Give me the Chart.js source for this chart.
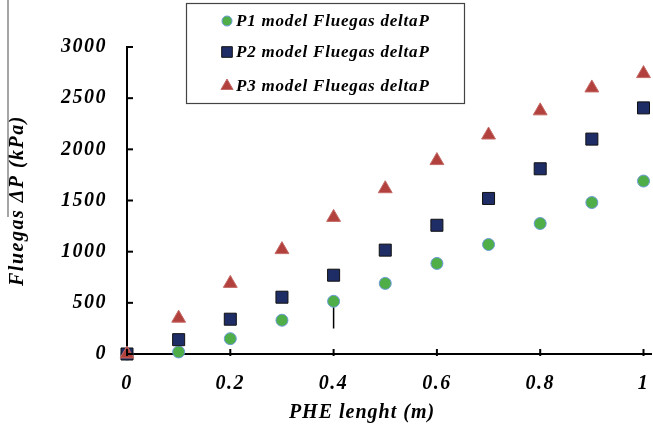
<!DOCTYPE html>
<html>
<head>
<meta charset="utf-8">
<script src="https://cdn.jsdelivr.net/npm/chart.js@4.4.1/dist/chart.umd.min.js"></script>
<style>
  html, body { margin: 0; padding: 0; background: #fff; }
  #wrap { width: 653px; height: 432px; }
</style>
</head>
<body>
<div id="wrap"><canvas id="myChart" width="653" height="432"></canvas></div>
<script>
// PHE length (m)
var lengths = [0, 0.1, 0.2, 0.3, 0.4, 0.5, 0.6, 0.7, 0.8, 0.9, 1.0];
// flue gas pressure drop (kPa)
var p1 = [0, 20, 150, 330, 515, 690, 885, 1070, 1275, 1480, 1690];
var p2 = [0, 140, 340, 555, 770, 1015, 1258, 1520, 1810, 2100, 2405];
var p3 = [0, 350, 690, 1020, 1335, 1615, 1890, 2140, 2376, 2600, 2740];
// the stray vertical bar under the 0.4 point
var barX = [0.4, 0.4];
var barY = [515, 250];

var seriesNames = ["P1 model Fluegas deltaP", "P2 model Fluegas deltaP", "P3 model Fluegas deltaP"];
var xTitle = 'PHE lenght (m)';
var yTitle = 'Fluegas \u0394P (kPa)';
var xTicks = [0, 0.2, 0.4, 0.6, 0.8, 1];
var yTicks = [0, 500, 1000, 1500, 2000, 2500, 3000];

var serif = "'Liberation Serif', 'Times New Roman', serif";

function pts(xs, ys) {
  var out = [];
  for (var i = 0; i < xs.length; i++) out.push({x: xs[i], y: ys[i]});
  return out;
}

var spacing = {
  id: 'spacing',
  beforeUpdate: function(chart) { chart.ctx.letterSpacing = '1.5px'; },
  beforeDraw: function(chart) { chart.ctx.letterSpacing = '1.5px'; }
};

var extras = {
  id: 'extras',
  afterDatasetsDraw: function(chart) {
    var ctx = chart.ctx;
    var xs = chart.scales.x, ys = chart.scales.y;
    ctx.save();
    ctx.strokeStyle = '#000';
    ctx.lineWidth = 2;
    // inward tick marks
    yTicks.forEach(function(v) {
      var py = ys.getPixelForValue(v);
      ctx.beginPath(); ctx.moveTo(xs.left, py); ctx.lineTo(xs.left + 6, py); ctx.stroke();
    });
    xTicks.forEach(function(v) {
      var px = xs.getPixelForValue(v);
      ctx.beginPath(); ctx.moveTo(px, ys.bottom + 2); ctx.lineTo(px, ys.bottom - 5); ctx.stroke();
    });
    // x axis line runs a bit past 1
    ctx.beginPath(); ctx.moveTo(xs.right, ys.bottom); ctx.lineTo(652, ys.bottom); ctx.stroke();
    // grey line at left edge
    ctx.strokeStyle = '#888';
    ctx.lineWidth = 1.5;
    ctx.beginPath(); ctx.moveTo(8, 0); ctx.lineTo(8, 217); ctx.stroke();

    // x axis title, sits left of the axis centre in the original
    ctx.fillStyle = '#000';
    ctx.font = "italic bold 20px " + serif;
    ctx.letterSpacing = '1px';
    ctx.textAlign = 'center';
    ctx.textBaseline = 'middle';
    ctx.fillText(xTitle, 362, 413);

    // legend box
    ctx.fillStyle = '#fff';
    ctx.fillRect(186, 3, 278, 100);
    ctx.strokeStyle = '#444';
    ctx.lineWidth = 1.2;
    ctx.strokeRect(186.5, 3.5, 278, 100);
    var rows = [21, 52, 86];
    ctx.font = "italic bold 17px " + serif;
    ctx.letterSpacing = '0.8px';
    ctx.textAlign = 'left';
    ctx.textBaseline = 'middle';
    for (var i = 0; i < 3; i++) {
      var ds = chart.data.datasets[i];
      ctx.fillStyle = ds.backgroundColor;
      ctx.strokeStyle = ds.borderColor;
      ctx.lineWidth = ds.borderWidth;
      Chart.helpers.drawPoint(ctx, {
        pointStyle: ds.pointStyle, radius: ds.pointRadius - 1, rotation: 0,
        borderWidth: ds.borderWidth
      }, 227, rows[i]);
      ctx.fillStyle = '#000';
      ctx.fillText(seriesNames[i], 236, rows[i] + 1);
    }
    ctx.restore();
  }
};

var ctx = document.getElementById('myChart').getContext('2d');
var chart = new Chart(ctx, {
  type: 'scatter',
  data: {
    datasets: [{
      label: seriesNames[0],
      data: pts(lengths, p1),
      pointStyle: 'circle',
      pointRadius: 6,
      backgroundColor: '#4fae48',
      borderColor: '#6b9bd8',
      borderWidth: 1,
      order: 3
    }, {
      label: seriesNames[1],
      data: pts(lengths, p2),
      pointStyle: 'rect',
      pointRadius: 8.5,
      backgroundColor: '#1f2d66',
      borderColor: '#111',
      borderWidth: 1,
      order: 2
    }, {
      label: seriesNames[2],
      data: pts(lengths, p3),
      pointStyle: 'triangle',
      pointRadius: 8,
      backgroundColor: '#b2403d',
      borderColor: '#c46a66',
      borderWidth: 1,
      order: 1
    }, {
      label: 'bar',
      data: pts(barX, barY),
      showLine: true,
      pointRadius: 0,
      borderColor: '#000',
      borderWidth: 1.5,
      order: 4
    }]
  },
  options: {
    responsive: false,
    animation: false,
    clip: false,
    layout: { padding: { top: 47, right: 6, left: 0, bottom: 0 } },
    plugins: {
      legend: { display: false },
      tooltip: { enabled: false }
    },
    scales: {
      x: {
        type: 'linear',
        min: 0, max: 1,
        afterBuildTicks: function(s) { s.ticks = xTicks.map(function(v) { return {value: v}; }); },
        afterFit: function(s) { s.height = 78; s.paddingLeft = 0; s.paddingRight = 0; },
        grid: { display: false },
        border: { display: true, color: '#000', width: 2 },
        ticks: {
          color: '#000', padding: 10,
          font: { family: serif, size: 20, style: 'italic', weight: 'bold' },
          callback: function(v) { return String(v); }
        },
        title: { display: false, text: xTitle }
      },
      y: {
        type: 'linear',
        min: 0, max: 3000,
        afterBuildTicks: function(s) { s.ticks = yTicks.map(function(v) { return {value: v}; }); },
        afterFit: function(s) { s.width = 127; },
        grid: { display: false },
        border: { display: true, color: '#000', width: 2 },
        ticks: {
          color: '#000', padding: 12,
          font: { family: serif, size: 20, style: 'italic', weight: 'bold' },
          callback: function(v) { return String(v); }
        },
        title: {
          display: true, text: yTitle, color: '#000',
          padding: { top: 6, bottom: 0 },
          font: { family: serif, size: 20, style: 'italic', weight: 'bold' }
        }
      }
    }
  },
  plugins: [spacing, extras]
});
</script>
</body>
</html>
